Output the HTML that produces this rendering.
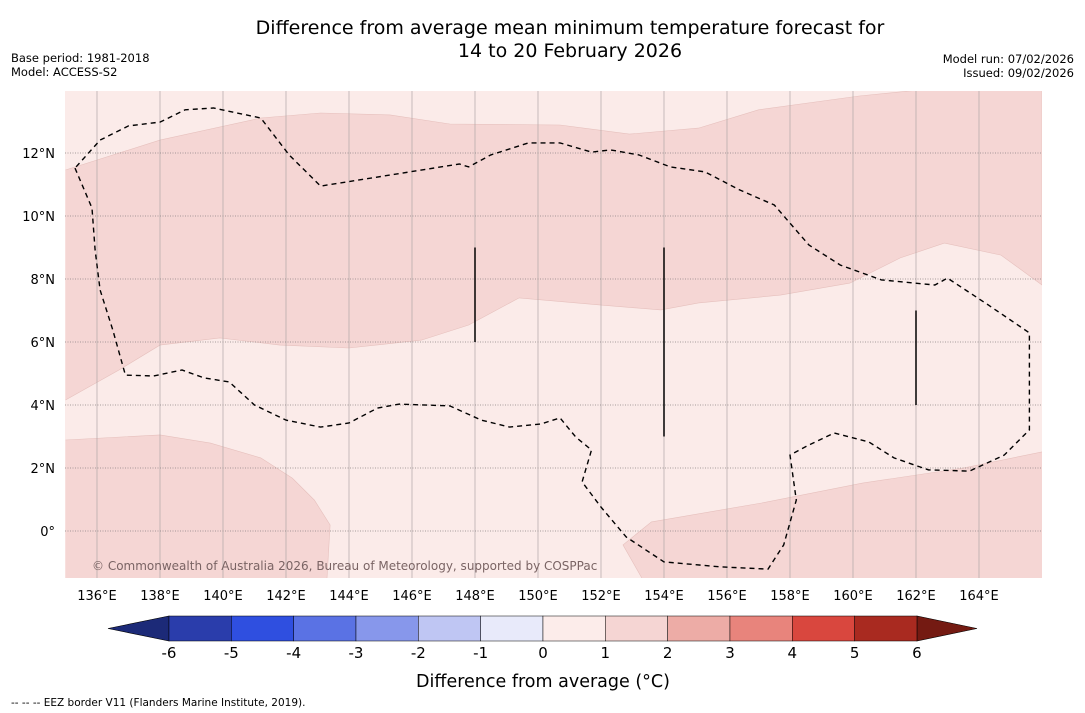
<!DOCTYPE html>
<html><head><meta charset="utf-8"><style>
body{margin:0;background:#fff;width:1085px;height:713px;overflow:hidden;font-family:"DejaVu Sans","Liberation Sans",sans-serif}
svg{display:block;font-family:"DejaVu Sans","Liberation Sans",sans-serif}
</style></head><body>
<svg id="chart" width="1085" height="713" viewBox="0 0 1085 713">
<text x="570" y="34" text-anchor="middle" font-size="19">Difference from average mean minimum temperature forecast for</text>
<text x="570" y="57" text-anchor="middle" font-size="19">14 to 20 February 2026</text>
<text x="11" y="62" font-size="11.5">Base period: 1981-2018</text>
<text x="11" y="76" font-size="11.5">Model: ACCESS-S2</text>
<text x="1074" y="63" font-size="11.5" text-anchor="end">Model run: 07/02/2026</text>
<text x="1074" y="77" font-size="11.5" text-anchor="end">Issued: 09/02/2026</text>
<g id="map"></g>
<g id="axes"></g>
<g id="cbar"></g>
<text x="543" y="687" text-anchor="middle" font-size="17.5">Difference from average (°C)</text>
<text x="11" y="706" font-size="10.5">--  --  -- EEZ border V11 (Flanders Marine Institute, 2019).</text>
</svg>
<script>
const lonTicks=[136,138,140,142,144,146,148,150,152,154,156,158,160,162,164];
const latTicks=[0,2,4,6,8,10,12];
const bandLon=[135,138,141.2,143.1,145.3,147.2,150.7,152.9,155.1,157.0,160.2,162.1,166,166,164.7,162.9,161.5,159.9,157.7,155.1,153.9,152,149.4,147.8,146.3,144,141.8,139.9,138,136.7,135];
const bandLat=[11.46,12.41,13.11,13.27,13.21,12.92,12.89,12.6,12.79,13.37,13.81,14,14,7.81,8.76,9.14,8.67,7.87,7.49,7.24,7.02,7.17,7.4,6.54,6.06,5.81,5.9,6.13,5.9,5.11,4.16];
const llLon=[135,138,139.6,141.2,142.2,142.9,143.4,143.3,135];
const llLat=[2.89,3.05,2.79,2.32,1.68,0.98,0.19,-1.5,-1.5];
const lrLon=[166,163.5,160.3,157.1,153.6,152.7,153.3,166];
const lrLat=[2.51,2.0,1.52,0.89,0.29,-0.44,-1.5,-1.5];
const eezLon=[135.3,135.84,135.94,136.1,136.5,136.9,137.8,138.7,139.4,140.2,141.0,142.0,143.1,144.0,144.9,145.6,147.2,148.2,149.1,150.1,150.7,151.2,151.7,151.4,152.0,152.8,154.0,155.8,157.3,157.8,158.2,158.0,158.6,159.4,160.5,161.3,162.4,163.7,164.8,165.6,165.6,164.3,163.0,162.6,160.9,159.6,158.6,157.5,156.4,155.3,154.2,153.2,152.3,151.7,150.7,149.7,148.5,147.8,147.5,143.1,142.1,141.2,139.7,138.8,138.0,137.0,136.1,135.3];
const eezLat=[11.52,10.25,8.92,7.65,6.38,4.95,4.92,5.11,4.86,4.73,4.0,3.52,3.3,3.43,3.9,4.03,3.97,3.52,3.3,3.4,3.59,2.98,2.57,1.56,0.76,-0.19,-0.98,-1.14,-1.21,-0.44,0.98,2.41,2.73,3.11,2.83,2.32,1.94,1.9,2.41,3.21,6.29,7.17,8.03,7.81,7.97,8.44,9.08,10.35,10.83,11.4,11.56,11.94,12.1,12.03,12.32,12.32,11.94,11.56,11.65,10.95,11.94,13.11,13.43,13.37,12.98,12.86,12.41,11.52];
const vLon=[148,154,162];
const vLat0=[6,3,4];
const vLat1=[9,9,7];
const cbBounds=[-6,-5,-4,-3,-2,-1,0,1,2,3,4,5,6];
const cbColors=["#2a3dab","#2f4fe0","#5a72e4","#8797eb","#bfc6f3","#e8eafa","#fcecea","#f5d5d3","#edaca6","#e8847c","#d9473e","#a92a20"];

const NS="http://www.w3.org/2000/svg";
const X0=65,X1=1042,Y0=91,Y1=578;
const px=lon=>97+(lon-136)*31.5;
const py=lat=>531-lat*31.5;
function mk(tag,attrs,parent){const e=document.createElementNS(NS,tag);for(const k in attrs)e.setAttribute(k,attrs[k]);parent.appendChild(e);return e;}
const map=document.getElementById('map'),axes=document.getElementById('axes'),cbar=document.getElementById('cbar');
const cp=mk('clipPath',{id:'clip'},map);mk('rect',{x:X0,y:Y0,width:X1-X0,height:Y1-Y0},cp);
const bg=mk('rect',{x:X0,y:Y0,width:X1-X0,height:Y1-Y0,fill:'#fbebe9'},map);


function poly(lons,lats,name,attrs){const pts=lons.map((l,i)=>px(l).toFixed(1)+','+py(lats[i]).toFixed(1)).join(' ');const e=mk('polyline',Object.assign({points:pts,'clip-path':'url(#clip)'},attrs),map);return e;}
poly(bandLon,bandLat,'anomaly-1-2-north-band',{fill:'#f5d6d4',stroke:'#e6c0bd','stroke-width':0.6});
poly(llLon,llLat,'anomaly-1-2-southwest',{fill:'#f5d6d4',stroke:'#e6c0bd','stroke-width':0.6});
poly(lrLon,lrLat,'anomaly-1-2-southeast',{fill:'#f5d6d4',stroke:'#e6c0bd','stroke-width':0.6});
lonTicks.forEach(l=>{const g=mk('line',{x1:px(l),x2:px(l),y1:Y0,y2:Y1,stroke:'#b0a6a6','stroke-width':0.7},map);
const t=mk('text',{x:px(l),y:600,'text-anchor':'middle','font-size':13},axes);t.textContent=l+'°E';});
latTicks.forEach(l=>{const g=mk('line',{x1:X0,x2:X1,y1:py(l),y2:py(l),stroke:'#8a8282','stroke-width':0.7,'stroke-dasharray':'1,1.5'},map);
const t=mk('text',{x:55,y:py(l)+5,'text-anchor':'end','font-size':13},axes);t.textContent=l===0?'0°':l+'°N';});
poly(eezLon,eezLat,'eez-border',{fill:'none',stroke:'#000','stroke-width':1.4,'stroke-dasharray':'5,4'});
vLon.forEach((l,i)=>{const e=mk('line',{x1:px(l),x2:px(l),y1:py(vLat1[i]),y2:py(vLat0[i]),stroke:'#000','stroke-width':1.5},map);});
const cr=mk('text',{x:92,y:570,'font-size':12,fill:'#7a6464'},map);cr.textContent='© Commonwealth of Australia 2026, Bureau of Meteorology, supported by COSPPac';


const cx=v=>169+(v+6)*62.33, cy0=616, cy1=641;
const lt=mk('polygon',{points:`108,628.5 ${cx(-6)},${cy0} ${cx(-6)},${cy1}`,fill:'#1c2a78',stroke:'#000','stroke-width':0.6},cbar);


const rt=mk('polygon',{points:`977,628.5 ${cx(6)},${cy0} ${cx(6)},${cy1}`,fill:'#741a12',stroke:'#000','stroke-width':0.6},cbar);


cbColors.forEach((c,i)=>{const r=mk('rect',{x:cx(cbBounds[i]),y:cy0,width:cx(cbBounds[i+1])-cx(cbBounds[i]),height:cy1-cy0,fill:c,stroke:'#000','stroke-width':0.5},cbar);});
cbBounds.forEach(v=>{const t=mk('text',{x:cx(v),y:658,'text-anchor':'middle','font-size':15},cbar);t.textContent=v;});
</script>
</body></html>
